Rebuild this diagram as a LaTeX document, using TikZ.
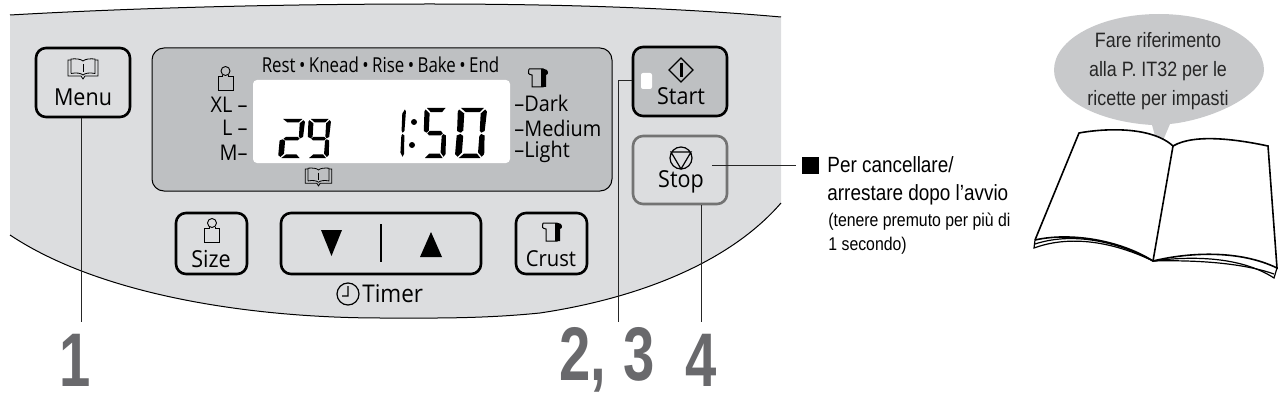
\documentclass[tikz,border=0pt]{standalone}
\usepackage{fontspec}
\setmainfont{Liberation Sans}
\newfontfamily\panelfont[FakeStretch=0.92]{Open Sans}
\newfontfamily\phasefont[FakeStretch=0.82]{Open Sans}
\newfontfamily\notefont[FakeStretch=0.86]{Liberation Sans}
\newfontfamily\stepfont[FakeStretch=0.74]{Liberation Sans Bold}
\usepackage{tikz}
\usetikzlibrary{positioning}

\definecolor{panelgray}{RGB}{220,221,223}
\definecolor{lcdgray}{RGB}{190,192,194}
\definecolor{stepgray}{RGB}{105,105,108}
\definecolor{bubblegray}{RGB}{200,201,203}

\tikzset{
  keybox/.style={draw,rounded corners=5pt,line width=1.3pt,inner sep=0pt},
  keylabel/.style={font=\panelfont\fontsize{11.7}{14}\selectfont,inner sep=0pt},
  lcdlabel/.style={font=\panelfont\fontsize{10.8}{12}\selectfont,inner sep=0pt},
  phaselabel/.style={font=\phasefont\fontsize{10.3}{12}\selectfont,inner sep=0pt},
  leader/.style={line width=0.5pt,black!85},
  steplabel/.style={font=\stepfont\fontsize{38}{38}\selectfont,text=stepgray,inner sep=0pt},
  notelabel/.style={font=\notefont\fontsize{11}{13}\selectfont,inner sep=0pt,anchor=west},
  smalllabel/.style={font=\notefont\fontsize{9.2}{11}\selectfont,inner sep=0pt,anchor=west},
  bubblelabel/.style={font=\notefont\fontsize{10.4}{12}\selectfont,inner sep=0pt,align=center,text=black!85},
  bookicon/.pic={
    \draw[line width=0.4pt] (-12,-9) -- (-15,-9) -- (-15,7) -- (-2,7) -- (0,10) -- (2,7) -- (15,7) -- (15,-9) -- (12,-9);
    \draw[line width=0.4pt] (-12,4.5) -- (-12,-10) .. controls (-7,-10.5) and (-2,-10) .. (0,-8)
      .. controls (2,-10) and (7,-10.5) .. (12,-10) -- (12,4.5) .. controls (7,3.5) and (2,4) .. (0,6)
      .. controls (-2,4) and (-7,3.5) .. (-12,4.5);
    \draw[line width=0.4pt] (0,-5) -- (0,3);
  },
  weighticon/.pic={
    \draw[line width=0.45pt] (-3,-3) -- (-3,-1.5) -- (-7.5,-1.5) -- (-7.5,12) -- (7.5,12) -- (7.5,-1.5) -- (3,-1.5) -- (3,-3);
    \draw[line width=0.45pt] (0,-7) circle (4.5);
  },
  breadicon/.pic={
    \draw[line width=0.5pt] (-9,-9) -- (5,-9) -- (5,9) -- (-6,9) -- (-6,-3) .. controls (-10,-4) .. (-9,-9);
    \fill (3,-9) -- (6,-9) .. controls (11,-9) and (11,-3) .. (8,-3) -- (8,9) -- (3,9) -- cycle;
  },
  seg a/.pic={\fill (1.6,0) -- (9,0) -- (7.6,1.7) -- (3.2,1.7) -- cycle;},
  seg b/.pic={\fill (9.4,.6) -- (10,1.4) -- (9.4,9.2) -- (8.3,9.9) -- (7.8,9) -- (8,2.2) -- cycle;},
  seg c/.pic={\fill (8.3,10.4) -- (9.4,11) -- (9.4,18.4) -- (8.6,19.5) -- (7.4,17.8) -- (7.7,11.2) -- cycle;},
  seg d/.pic={\fill (2.9,18.2) -- (7,18.2) -- (8.2,20) -- (1.2,20) -- cycle;},
  seg e/.pic={\fill (1.6,10.4) -- (2.5,11.2) -- (2.2,17.8) -- (.8,19.5) -- (0,18.5) -- (.4,11) -- cycle;},
  seg f/.pic={\fill (1,.6) -- (2.7,2.2) -- (2.5,9) -- (1.7,9.9) -- (.5,9.2) -- (.6,1.4) -- cycle;},
  seg g/.pic={\fill (2.8,9.2) -- (7.4,9.2) -- (8.1,10.1) -- (7.4,10.9) -- (2.6,10.9) -- (1.9,10.1) -- cycle;},
}

% one seven segment digit: x, y, width, height, segments
\newcommand{\lcddigit}[5]{
  \begin{scope}[shift={(#1,#2)},xslant=0.02,xscale=#3/10,yscale=#4/20]
    \foreach \s in {#5} \pic[transform shape] {seg \s};
  \end{scope}
}

\begin{document}
\begin{tikzpicture}[x=0.5pt,y=-0.5pt]
  \useasboundingbox (0,0) rectangle (1284,401);

  % housing
  \fill[panelgray] (10,15) .. controls (150,7) and (300,4) .. (430,4)
    .. controls (560,4) and (680,8) .. (781,17) -- (781,203)
    .. controls (730,262) and (640,298) .. (540,313)
    .. controls (480,319) and (430,318) .. (382,318)
    .. controls (250,318) and (100,295) .. (10,235) -- cycle;
  \draw[line width=0.5pt] (10,15) .. controls (150,7) and (300,4) .. (430,4)
    .. controls (560,4) and (680,8) .. (781,17);
  \draw[line width=0.5pt] (781,203)
    .. controls (730,262) and (640,298) .. (540,313)
    .. controls (480,319) and (430,318) .. (382,318)
    .. controls (250,318) and (100,295) .. (10,235);

  % display
  \node[draw,line width=0.5pt,fill=lcdgray,rounded corners=6pt,minimum width=230pt,minimum height=71.5pt,inner sep=0pt] (lcd) at (382,119.5) {};
  \node[fill=white,rounded corners=2pt,minimum width=128.5pt,minimum height=41.5pt,inner sep=0pt] (screen) at (381.5,121.5) {};
  \node[phaselabel] (phases) at (380.5,65) {Rest\,•\,Knead\,•\,Rise\,•\,Bake\,•\,End};
  \node[lcdlabel,anchor=east] (xl) at (248,105) {XL –};
  \node[lcdlabel,anchor=east] (ll) at (248,128) {L –};
  \node[lcdlabel,anchor=east] (mm) at (248,153) {M–};
  \node[lcdlabel,anchor=west] (dark) at (514,103) {–Dark};
  \node[lcdlabel,anchor=west] (medium) at (514,128) {–Medium};
  \node[lcdlabel,anchor=west] (light) at (514,152) {–Light};
  \pic[scale=0.88] at (318.5,177) {bookicon};
  \pic at (225.5,78) {weighticon};
  \pic at (538,78) {breadicon};

  % digits
  \lcddigit{279}{119}{26}{39}{a,b,g,e,d}
  \lcddigit{307}{119}{24}{39}{a,b,c,d,f,g}
  \lcddigit{388}{108}{18}{50}{b,c}
  \fill (414,122) circle (3) (412,145) circle (3);
  \lcddigit{423}{108}{25}{50}{a,f,g,c,d}
  \lcddigit{456}{108}{31}{50}{a,b,c,d,e,f}

  % keys
  \node[keybox,fill=panelgray,minimum width=47pt,minimum height=34.5pt] (menu) at (83,82.5) {};
  \node[keybox,fill=lcdgray,minimum width=47pt,minimum height=34.5pt] (start) at (680,81.5) {};
  \node[keybox,draw=black!55,fill=panelgray,minimum width=47pt,minimum height=34pt] (stop) at (680,170) {};
  \node[keybox,minimum width=35.5pt,minimum height=30.5pt] (size) at (211.5,243.5) {};
  \node[keybox,minimum width=100pt,minimum height=30.5pt] (arrows) at (381,243.5) {};
  \node[keybox,minimum width=35.5pt,minimum height=30.5pt] (crust) at (551.5,243.5) {};

  \node[keylabel] (menutext) at (83,97) {Menu};
  \node[keylabel] (starttext) at (681,96) {Start};
  \node[keylabel] (stoptext) at (681,182) {Stop};
  \node[keylabel] (sizetext) at (211,259) {Size};
  \node[keylabel,font=\panelfont\fontsize{11}{14}\selectfont] (crusttext) at (551,259) {Crust};
  \node[keylabel,font=\panelfont\fontsize{12.2}{14}\selectfont,anchor=west] (timertext) at (362,294) {Timer};

  \pic at (83,69) {bookicon};
  \pic at (212,230) {weighticon};
  \pic at (552,232) {breadicon};
  \draw[line width=0.6pt] (681,58) -- (693,70) -- (681,82) -- (669,70) -- cycle;
  \fill (679.5,63) rectangle (682.5,77);
  \draw[line width=0.6pt] (681,158) circle (11) (671,152) -- (691,152) -- (681,169) -- cycle;
  \fill (321,230) -- (342,230) -- (331.5,256) -- cycle;
  \fill (431,232) -- (442,257) -- (420,257) -- cycle;
  \draw[line width=0.6pt] (381,224) -- (381,262);
  \draw[line width=0.6pt] (348,294) circle (11) (348,286) -- (348,296) -- (342,296);

  % connectors
  \node[fill=white,minimum width=5.5pt,minimum height=8pt,inner sep=0pt,rounded corners=1pt] (led) at (646.5,81) {};
  \node[fill=black,minimum size=8.5pt,inner sep=0pt] (bullet) at (810.5,165) {};
  \coordinate (endone) at (81.5,322);
  \coordinate (endtwo) at (618,322);
  \coordinate (endfour) at (701,322);
  \draw[leader] (menu.south -| endone) -- (endone);
  \draw[leader,shorten <=4.5pt] (led.west) -| (endtwo);
  \draw[leader] (stop.south -| endfour) -- (endfour);
  \draw[leader,shorten <=16pt,shorten >=3pt] (stop.center |- bullet.west) -- (bullet.west);

  % step numbers
  \node[steplabel] (stepone) at (75,360) {1};
  \node[steplabel,anchor=west] (steptwo) at (559,360) {2,\kern1pt\ 3};
  \node[steplabel] (stepfour) at (701.5,360) {4};

  % note
  \node[notelabel] (noteone) at (827,165) {Per cancellare/};
  \node[notelabel] (notetwo) at (827,195) {arrestare dopo l’avvio};
  \node[smalllabel] (notethree) at (828,222) {(tenere premuto per più di};
  \node[smalllabel] (notefour) at (828,246) {1 secondo)};

  % bubble
  \fill[bubblegray] (1159,14) .. controls (1217,14) and (1264,39) .. (1264,70)
    .. controls (1264,96) and (1210,120) .. (1170,124) -- (1159,150) -- (1152,125)
    .. controls (1100,122) and (1054,100) .. (1054,70)
    .. controls (1054,39) and (1101,14) .. (1159,14) -- cycle;
  \node[bubblelabel] (bubbletext) at (1158,71) {Fare riferimento\\[2.5pt]alla P. IT32 per le\\[2.5pt]ricette per impasti};

  % open book
  \fill[white] (1079,133) .. controls (1100,129) and (1150,125) .. (1173,146) -- (1153,261)
    .. controls (1120,240) and (1070,232) .. (1035,240) -- cycle;
  \draw[line width=0.8pt] (1035,240) -- (1079,133) .. controls (1100,129) and (1150,125) .. (1173,146)
    .. controls (1195,133) and (1240,140) .. (1268,146) -- (1277,268)
    .. controls (1240,250) and (1190,252) .. (1153,261) .. controls (1120,240) and (1070,232) .. (1035,240);
  \draw[line width=0.8pt] (1173,146) -- (1153,261);
  \draw[line width=0.6pt] (1035,240) -- (1034,248) .. controls (1075,233) and (1120,245) .. (1153,261)
    .. controls (1190,256) and (1240,256) .. (1274,278) -- (1277,268);
  \draw[line width=0.6pt] (1035,244) .. controls (1075,231) and (1120,243) .. (1153,261)
    .. controls (1190,260) and (1240,262) .. (1274,274);
\end{tikzpicture}
\end{document}
